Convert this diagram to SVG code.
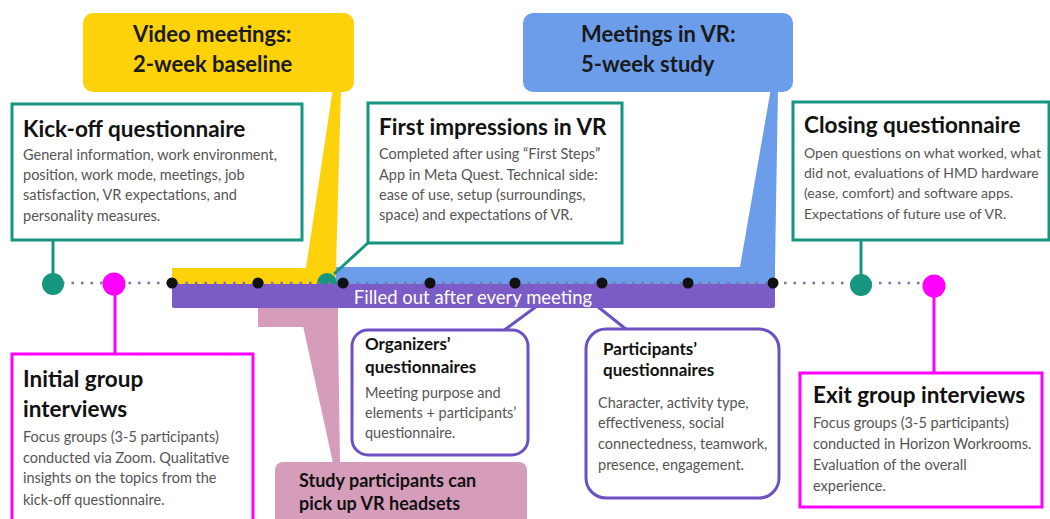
<svg xmlns="http://www.w3.org/2000/svg" width="1050" height="519" viewBox="0 0 1050 519">
  <style>
    .phase { font-family: Lato, "Open Sans", sans-serif; font-weight: 700; font-size: 22px; fill: #1a1a1a; }
    .title { font-family: Lato, "Open Sans", sans-serif; font-weight: 700; font-size: 22.5px; fill: #111; }
    .stitle { font-family: Lato, "Open Sans", sans-serif; font-weight: 700; font-size: 17px; fill: #111; }
    .body { font-family: Lato, "Open Sans", sans-serif; font-size: 14.5px; fill: #555; }
    .body-narrow { font-family: Lato, "Open Sans", sans-serif; font-size: 14px; fill: #555; }
    .bar-label { font-family: Lato, "Open Sans", sans-serif; font-size: 18.5px; fill: #fff; }
    .teal-box { fill: #fff; stroke: #17967f; stroke-width: 3; }
    .mag-box { fill: #fff; stroke: #ff00ff; stroke-width: 3; }
    .pur-box { fill: #fff; stroke: #6d50c2; stroke-width: 3; }
    .teal-line { stroke: #17967f; stroke-width: 3; fill: none; }
    .mag-line { stroke: #ff00ff; stroke-width: 3; fill: none; }
    .pur-line { stroke: #6d50c2; stroke-width: 3; fill: none; }
    .tick { fill: #111; }
  </style>
  <rect width="1050" height="519" fill="#fff"/>

  <!-- phase callouts and timeline bands -->
  <g id="video-phase">
    <rect x="83" y="13" width="271" height="79" rx="10" fill="#fdd20a"/>
    <polygon points="333,88 341,88 336,268 306,268" fill="#fdd20a"/>
    <rect x="172" y="268" width="164" height="16" fill="#fdd20a"/>
    <text class="phase" x="133" y="42">Video meetings:</text>
    <text class="phase" x="133" y="72">2-week baseline</text>
  </g>

  <g id="vr-phase">
    <rect x="523" y="13" width="270" height="79" rx="10" fill="#6c9deb"/>
    <polygon points="771,88 778,88 775,267 740,267" fill="#6c9deb"/>
    <rect x="336" y="267" width="439" height="17" fill="#6c9deb"/>
    <text class="phase" x="581" y="42">Meetings in VR:</text>
    <text class="phase" x="581" y="72">5-week study</text>
  </g>

  <g id="headsets">
    <rect x="258" y="300" width="80" height="27" fill="#d69dbb"/>
    <polygon points="303,326 338,326 340,463 333,463" fill="#d69dbb"/>
    <rect x="275" y="462" width="252" height="70" rx="8" fill="#d69dbb"/>
    <text class="stitle" x="299" y="487" style="font-size:18px">Study participants can</text>
    <text class="stitle" x="299" y="510" style="font-size:18px">pick up VR headsets</text>
  </g>

  <!-- connectors -->
  <g id="connectors">
    <line class="teal-line" x1="53" y1="240" x2="53" y2="283"/>
    <line class="teal-line" x1="369" y1="242" x2="334" y2="274"/>
    <line class="teal-line" x1="861" y1="240" x2="861" y2="284"/>
    <line class="mag-line" x1="115" y1="284" x2="115" y2="354"/>
    <line class="mag-line" x1="934" y1="284" x2="934" y2="373"/>
    <line class="pur-line" x1="503" y1="331" x2="537" y2="306"/>
    <line class="pur-line" x1="627" y1="330" x2="597" y2="306"/>
  </g>

  <g id="first-impressions-marker">
    <circle cx="327" cy="283" r="10" fill="#17967f"/>
  </g>

  <g id="meeting-bar">
    <rect x="172" y="284" width="603" height="24" rx="2" fill="#7b5bc6"/>
    <text class="bar-label" x="473" y="304" text-anchor="middle">Filled out after every meeting</text>
  </g>

  <g id="timeline">
    <line x1="62" y1="283" x2="925" y2="283" stroke="#7f72a8" stroke-width="2.5" stroke-dasharray="2.5 7"/>
    <circle class="tick" cx="172" cy="283" r="5.5"/>
    <circle class="tick" cx="258" cy="283" r="5.5"/>
    <circle class="tick" cx="343" cy="283" r="5.5"/>
    <circle class="tick" cx="430" cy="283" r="5.5"/>
    <circle class="tick" cx="515" cy="283" r="5.5"/>
    <circle class="tick" cx="602" cy="283" r="5.5"/>
    <circle class="tick" cx="688" cy="283" r="5.5"/>
    <circle class="tick" cx="773" cy="283" r="5.5"/>
  </g>

  <g id="kickoff-dot"><circle cx="53" cy="284" r="11" fill="#17967f"/></g>
  <g id="initial-dot"><circle cx="114" cy="284" r="11.5" fill="#ff00ff"/></g>
  <g id="closing-dot"><circle cx="861" cy="285" r="11" fill="#17967f"/></g>
  <g id="exit-dot"><circle cx="934" cy="286" r="11.5" fill="#ff00ff"/></g>

  <g id="kickoff">
    <rect class="teal-box" x="12" y="104" width="290" height="136"/>
    <text class="title" x="23" y="137">Kick-off questionnaire</text>
    <text class="body" x="23" y="160">General information, work environment,</text>
    <text class="body" x="23" y="180">position, work mode, meetings, job</text>
    <text class="body" x="23" y="200">satisfaction, VR expectations, and</text>
    <text class="body" x="23" y="221">personality measures.</text>
  </g>

  <g id="first-impressions">
    <rect class="teal-box" x="368" y="103" width="254" height="140"/>
    <text class="title" x="379" y="135">First impressions in VR</text>
    <text class="body" x="379" y="159">Completed after using “First Steps”</text>
    <text class="body" x="379" y="180">App in Meta Quest. Technical side:</text>
    <text class="body" x="379" y="200">ease of use, setup (surroundings,</text>
    <text class="body" x="379" y="220">space) and expectations of VR.</text>
  </g>

  <g id="closing">
    <rect class="teal-box" x="793" y="102" width="256" height="138"/>
    <text class="title" x="804" y="133">Closing questionnaire</text>
    <text class="body-narrow" x="804" y="158">Open questions on what worked, what</text>
    <text class="body-narrow" x="804" y="178">did not, evaluations of HMD hardware</text>
    <text class="body-narrow" x="804" y="198">(ease, comfort) and software apps.</text>
    <text class="body-narrow" x="804" y="219">Expectations of future use of VR.</text>
  </g>

  <g id="initial-interviews">
    <rect class="mag-box" x="12" y="354" width="241" height="180"/>
    <text class="title" x="23" y="387">Initial group</text>
    <text class="title" x="23" y="417">interviews</text>
    <text class="body" x="23" y="442">Focus groups (3-5 participants)</text>
    <text class="body" x="23" y="463">conducted via Zoom. Qualitative</text>
    <text class="body" x="23" y="483">insights on the topics from the</text>
    <text class="body" x="23" y="505">kick-off questionnaire.</text>
  </g>

  <g id="exit-interviews">
    <rect class="mag-box" x="800" y="373" width="242" height="134"/>
    <text class="title" x="813" y="403">Exit group interviews</text>
    <text class="body" x="813" y="428">Focus groups (3-5 participants)</text>
    <text class="body" x="813" y="449">conducted in Horizon Workrooms.</text>
    <text class="body" x="813" y="470">Evaluation of the overall</text>
    <text class="body" x="813" y="491">experience.</text>
  </g>

  <g id="organizers">
    <rect class="pur-box" x="352" y="330" width="176" height="125" rx="16"/>
    <text class="stitle" x="365" y="350">Organizers’</text>
    <text class="stitle" x="365" y="373">questionnaires</text>
    <text class="body" x="365" y="398">Meeting purpose and</text>
    <text class="body" x="365" y="418">elements + participants’</text>
    <text class="body" x="365" y="438">questionnaire.</text>
  </g>

  <g id="participants">
    <rect class="pur-box" x="586" y="329" width="193" height="169" rx="20"/>
    <text class="stitle" x="603" y="355">Participants’</text>
    <text class="stitle" x="603" y="376">questionnaires</text>
    <text class="body" x="598" y="408">Character, activity type,</text>
    <text class="body" x="598" y="428">effectiveness, social</text>
    <text class="body" x="598" y="449">connectedness, teamwork,</text>
    <text class="body" x="598" y="470">presence, engagement.</text>
  </g>
</svg>
